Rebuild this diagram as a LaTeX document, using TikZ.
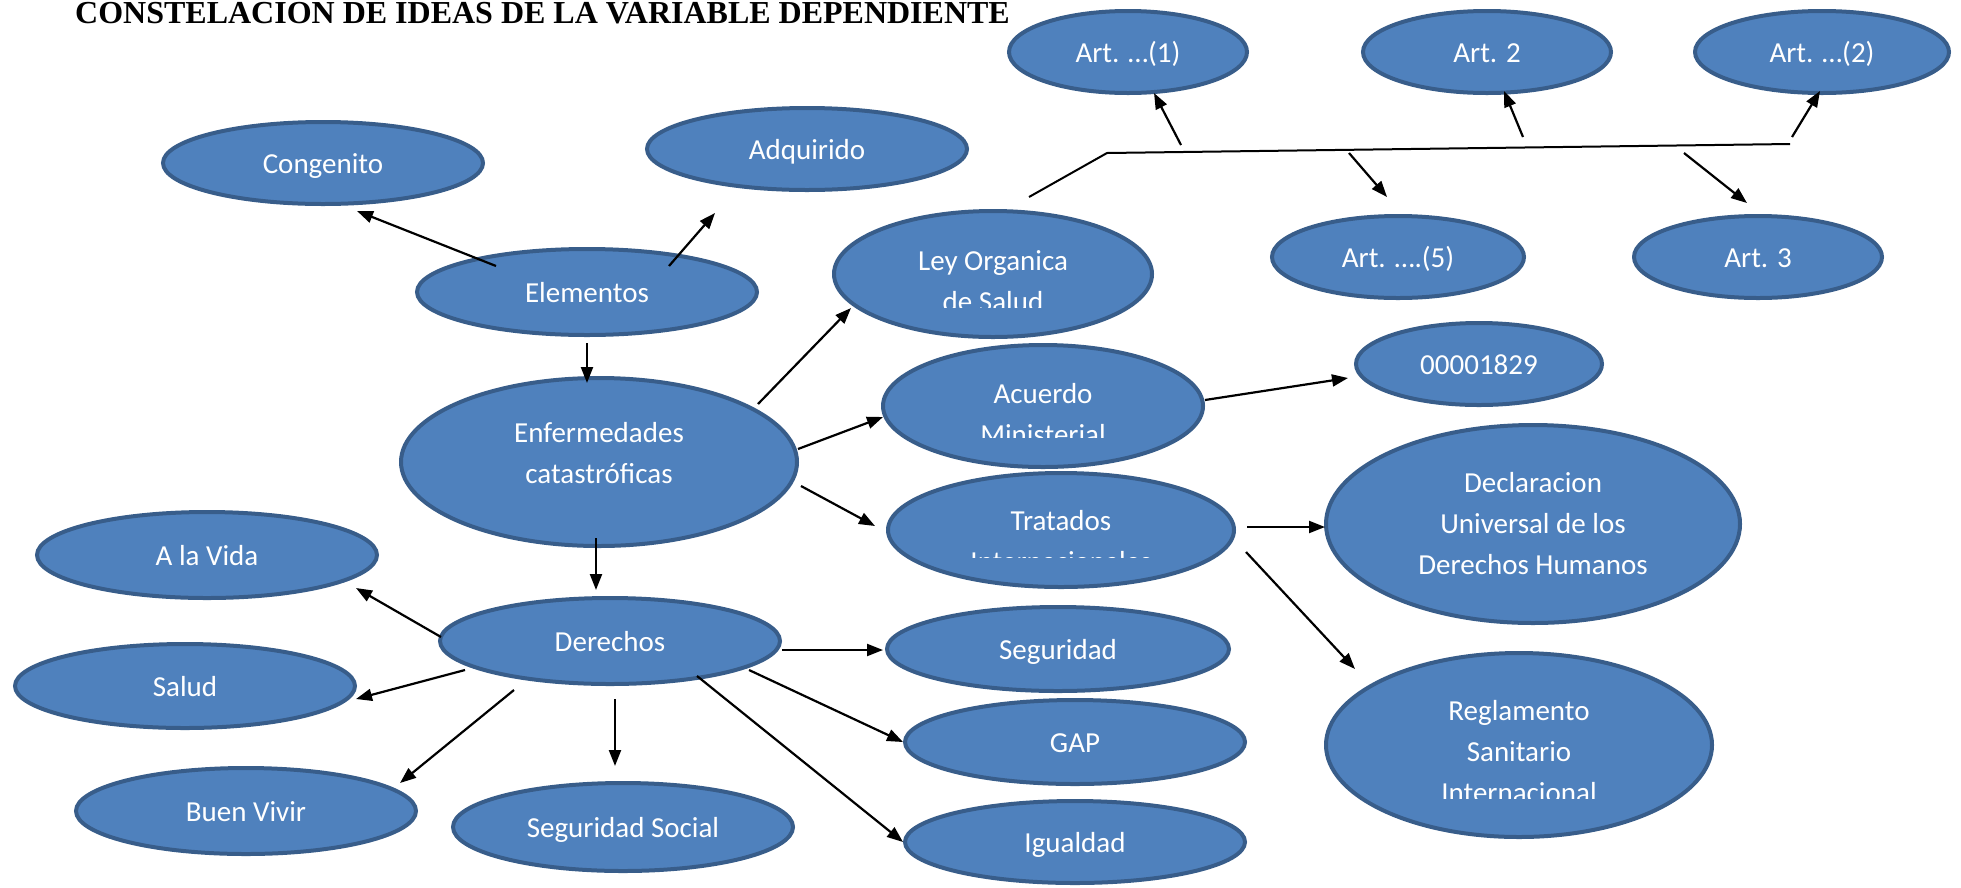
\documentclass[tikz,border=0pt]{standalone}
\usepackage{fontspec}
\setmainfont{Carlito}
\newfontfamily\titlefont{Liberation Serif}
\usetikzlibrary{arrows.meta,calc,shapes.geometric}
\definecolor{bfill}{HTML}{4F81BD}
\definecolor{bline}{HTML}{385D8A}
\begin{document}
\begin{tikzpicture}[x=1pt,y=-1pt,
  bub/.style={ellipse, draw=bline, fill=bfill, line width=4pt, inner sep=0pt,
    text=white, font=\fontsize{29}{41}\selectfont, align=center},
  one/.style={text height=20pt, text depth=0pt},
  sz/.style 2 args={minimum width=#1pt, minimum height=#2pt},
  lbl/.style={text=white, font=\fontsize{29}{41}\selectfont, align=center, inner sep=0pt},
  arr/.style={line width=2.2pt, -{Triangle[length=16pt,width=12pt]}},
  plain/.style={line width=2pt}]
\useasboundingbox (0,0) rectangle (1961,887);

% title
\node[anchor=base west, inner sep=0pt, font=\titlefont\bfseries\fontsize{32}{38}\selectfont] (title) at (75,23)
  {CONSTELACION DE IDEAS DE LA VARIABLE DEPENDIENTE};

% bubbles
\node[bub, one, sz={320}{82}]  (cong)  at (323,163)  {Congenito};
\node[bub, one, sz={320}{82}]  (adq)   at (807,149)  {Adquirido};
\node[bub, one, sz={340}{86}]  (elem)  at (587,292)  {Elementos};
\node[bub, sz={318}{126}] (ley)   at (993,274)  {};
\node[bub, one, sz={238}{82}]  (art1)  at (1128,52)  {Art. …(1)};
\node[bub, one, sz={248}{82}]  (art2)  at (1487,52)  {Art. 2};
\node[bub, one, sz={254}{82}]  (artb)  at (1822,52)  {Art. …(2)};
\node[bub, one, sz={252}{82}]  (art5)  at (1398,257) {Art. ….(5)};
\node[bub, one, sz={248}{82}]  (art3)  at (1758,257) {Art. 3};
\node[bub, one, sz={246}{82}]  (num)   at (1479,364) {00001829};
\node[bub, sz={320}{122}] (acu)   at (1043,406) {};
\node[bub, sz={346}{114}] (trat)  at (1061,530) {};
\node[bub, sz={414}{198}] (decl)  at (1533,524) {Declaracion\\Universal de los\\Derechos Humanos};
\node[bub, sz={386}{184}] (regl)  at (1519,745) {};
\node[bub, one, sz={342}{84}]  (seg)   at (1058,649) {Seguridad};
\node[bub, one, sz={340}{84}]  (gap)   at (1075,742) {GAP};
\node[bub, one, sz={340}{82}]  (igu)   at (1075,842) {Igualdad};
\node[bub, sz={396}{168}, text depth=18pt] (enf) at (599,462) {Enfermedades\\catastróficas};
\node[bub, one, sz={340}{86}]  (vida)  at (207,555)  {A la Vida};
\node[bub, one, sz={340}{84}]  (salud) at (185,686)  {Salud};
\node[bub, one, sz={340}{86}]  (der)   at (610,641)  {Derechos};
\node[bub, one, sz={340}{86}]  (buen)  at (246,811)  {Buen Vivir};
\node[bub, one, sz={340}{88}]  (ss)    at (623,827)  {Seguridad Social};

% clipped labels (anchor=base is the baseline of the last line)
\begin{scope}
  \clip (820,200) rectangle (1170,307);
  \node[lbl, anchor=base] (leyt) at (993,311) {Ley Organica\\de Salud};
\end{scope}
\begin{scope}
  \clip (870,330) rectangle (1220,437);
  \node[lbl, anchor=base] (acut) at (1043,444) {Acuerdo\\Ministerial};
\end{scope}
\begin{scope}
  \clip (870,460) rectangle (1250,557);
  \node[lbl, anchor=base] (tratt) at (1061,571) {Tratados\\Internacionales};
\end{scope}
\begin{scope}
  \clip (1310,640) rectangle (1730,798);
  \node[lbl, anchor=base] (reglt) at (1519,802) {Reglamento\\Sanitario\\Internacional};
\end{scope}

% connectors
\draw[arr] ($(elem)+(-91,-26)$) -- ($(cong)+(34,48)$);
\draw[arr] ($(elem)+(82,-26)$) -- ($(adq)+(-92,64)$);
\draw[arr] ($(elem)+(0,51)$) -- ($(enf)+(-12,-79)$);
\draw[arr] ($(enf)+(159,-58)$) -- ($(ley)+(-142,34)$);
\draw[arr] ($(enf)+(199,-13)$) -- ($(acu)+(-160,11)$);
\draw[arr] ($(enf)+(202,24)$) -- ($(trat)+(-186,-4)$);
\draw[arr] ($(enf)+(-3,76)$) -- ($(der)+(-14,-51)$);
\draw[arr] ($(der)+(-169,-4)$) -- ($(vida)+(149,33)$);
\draw[arr] ($(der)+(-145,29)$) -- ($(salud)+(171,13)$);
\draw[arr] ($(der)+(-96,49)$) -- ($(buen)+(154,-28)$);
\draw[arr] ($(der)+(5,58)$) -- ($(ss)+(-8,-61)$);
\draw[arr] ($(der)+(172,9)$) -- ($(seg)+(-175,1)$);
\draw[arr] ($(der)+(139,29)$) -- ($(gap)+(-172,0)$);
\draw[arr] ($(der)+(87,35)$) -- ($(igu)+(-172,0)$);
\draw[arr] ($(acu)+(162,-6)$) -- ($(num)+(-131,14)$);
\draw[arr] ($(trat)+(186,-3)$) -- ($(decl)+(-208,3)$);
\draw[arr] ($(trat)+(185,22)$) -- ($(regl)+(-164,-76)$);

% bracket from Ley Organica to the articles
\coordinate (bk1) at (1107,153);
\coordinate (bk2) at (1790,144);
\draw[plain] ($(ley)+(36,-77)$) -- (bk1) -- (bk2);
\draw[arr] ($(art1)+(53,93)$) -- ($(art1)+(26,41)$);
\draw[arr] ($(art2)+(36,85)$) -- ($(art2)+(17,39)$);
\draw[arr] ($(artb)+(-30,85)$) -- ($(artb)+(-2,39)$);
\draw[arr] ($(art5)+(-49,-104)$) -- ($(art5)+(-11,-60)$);
\draw[arr] ($(art3)+(-74,-104)$) -- ($(art3)+(-11,-54)$);
\end{tikzpicture}
\end{document}
